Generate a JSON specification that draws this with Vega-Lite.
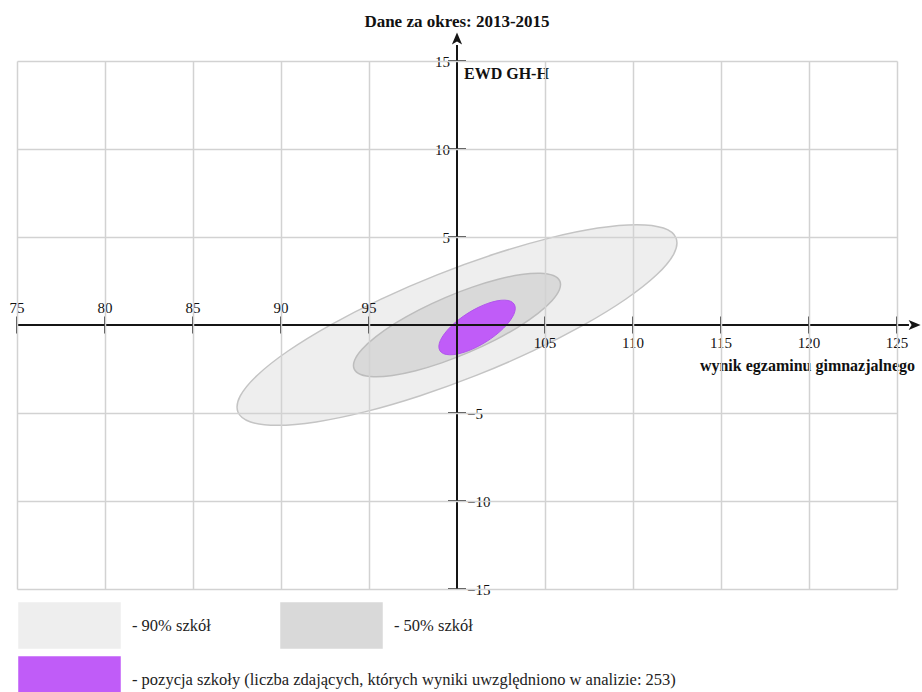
{
  "$schema": "https://vega.github.io/schema/vega-lite/v6.json",
  "width": 880,
  "height": 528,
  "autosize": {"type": "none"},
  "padding": {"left": 17, "top": 61, "right": 25, "bottom": 103},
  "background": "white",
  "title": {"text": "Dane za okres: 2013-2015", "font": "Liberation Serif", "fontSize": 17, "fontWeight": "bold", "color": "#111111", "anchor": "middle", "baseline": "middle", "offset": -7},
  "config": {"view": {"stroke": null}, "font": "Liberation Serif"},
  "datasets": {
    "elipsy": [
      {"g": "90", "i": 0, "x": 112.446, "y": 4.938}, {"g": "90", "i": 1, "x": 111.730, "y": 5.507}, {"g": "90", "i": 2, "x": 110.214, "y": 5.701}, {"g": "90", "i": 3, "x": 108.002, "y": 5.506},
      {"g": "90", "i": 4, "x": 105.244, "y": 4.936}, {"g": "90", "i": 5, "x": 102.130, "y": 4.030}, {"g": "90", "i": 6, "x": 98.870, "y": 2.849}, {"g": "90", "i": 7, "x": 95.687, "y": 1.474},
      {"g": "90", "i": 8, "x": 92.798, "y": -0.002}, {"g": "90", "i": 9, "x": 90.400, "y": -1.477}, {"g": "90", "i": 10, "x": 88.656, "y": -2.852}, {"g": "90", "i": 11, "x": 87.685, "y": -4.032},
      {"g": "90", "i": 12, "x": 87.554, "y": -4.938}, {"g": "90", "i": 13, "x": 88.270, "y": -5.507}, {"g": "90", "i": 14, "x": 89.786, "y": -5.701}, {"g": "90", "i": 15, "x": 91.998, "y": -5.506},
      {"g": "90", "i": 16, "x": 94.756, "y": -4.936}, {"g": "90", "i": 17, "x": 97.870, "y": -4.030}, {"g": "90", "i": 18, "x": 101.130, "y": -2.849}, {"g": "90", "i": 19, "x": 104.313, "y": -1.474},
      {"g": "90", "i": 20, "x": 107.202, "y": 0.002}, {"g": "90", "i": 21, "x": 109.600, "y": 1.477}, {"g": "90", "i": 22, "x": 111.344, "y": 2.852}, {"g": "90", "i": 23, "x": 112.315, "y": 4.032},
      {"g": "50", "i": 0, "x": 105.845, "y": 2.493}, {"g": "50", "i": 1, "x": 105.473, "y": 2.811}, {"g": "50", "i": 2, "x": 104.729, "y": 2.938}, {"g": "50", "i": 3, "x": 103.663, "y": 2.864},
      {"g": "50", "i": 4, "x": 102.347, "y": 2.596}, {"g": "50", "i": 5, "x": 100.871, "y": 2.150}, {"g": "50", "i": 6, "x": 99.335, "y": 1.558}, {"g": "50", "i": 7, "x": 97.845, "y": 0.860},
      {"g": "50", "i": 8, "x": 96.502, "y": 0.103}, {"g": "50", "i": 9, "x": 95.397, "y": -0.661}, {"g": "50", "i": 10, "x": 94.606, "y": -1.380}, {"g": "50", "i": 11, "x": 94.183, "y": -2.005},
      {"g": "50", "i": 12, "x": 94.155, "y": -2.493}, {"g": "50", "i": 13, "x": 94.527, "y": -2.811}, {"g": "50", "i": 14, "x": 95.271, "y": -2.938}, {"g": "50", "i": 15, "x": 96.337, "y": -2.864},
      {"g": "50", "i": 16, "x": 97.653, "y": -2.596}, {"g": "50", "i": 17, "x": 99.129, "y": -2.150}, {"g": "50", "i": 18, "x": 100.665, "y": -1.558}, {"g": "50", "i": 19, "x": 102.155, "y": -0.860},
      {"g": "50", "i": 20, "x": 103.498, "y": -0.103}, {"g": "50", "i": 21, "x": 104.603, "y": 0.661}, {"g": "50", "i": 22, "x": 105.394, "y": 1.380}, {"g": "50", "i": 23, "x": 105.817, "y": 2.005},
      {"g": "poz", "i": 0, "x": 103.249, "y": 1.181}, {"g": "poz", "i": 1, "x": 103.045, "y": 1.347}, {"g": "poz", "i": 2, "x": 102.711, "y": 1.412}, {"g": "poz", "i": 3, "x": 102.270, "y": 1.371},
      {"g": "poz", "i": 4, "x": 101.752, "y": 1.228}, {"g": "poz", "i": 5, "x": 101.192, "y": 0.991}, {"g": "poz", "i": 6, "x": 100.629, "y": 0.677}, {"g": "poz", "i": 7, "x": 100.100, "y": 0.307},
      {"g": "poz", "i": 8, "x": 99.642, "y": -0.093}, {"g": "poz", "i": 9, "x": 99.287, "y": -0.496}, {"g": "poz", "i": 10, "x": 99.057, "y": -0.875}, {"g": "poz", "i": 11, "x": 98.970, "y": -1.204},
      {"g": "poz", "i": 12, "x": 99.031, "y": -1.461}, {"g": "poz", "i": 13, "x": 99.235, "y": -1.627}, {"g": "poz", "i": 14, "x": 99.569, "y": -1.692}, {"g": "poz", "i": 15, "x": 100.010, "y": -1.651},
      {"g": "poz", "i": 16, "x": 100.528, "y": -1.508}, {"g": "poz", "i": 17, "x": 101.088, "y": -1.271}, {"g": "poz", "i": 18, "x": 101.651, "y": -0.957}, {"g": "poz", "i": 19, "x": 102.180, "y": -0.587},
      {"g": "poz", "i": 20, "x": 102.638, "y": -0.187}, {"g": "poz", "i": 21, "x": 102.993, "y": 0.216}, {"g": "poz", "i": 22, "x": 103.223, "y": 0.595}, {"g": "poz", "i": 23, "x": 103.310, "y": 0.924}
    ],
    "xt": [{"x": 75}, {"x": 80}, {"x": 85}, {"x": 90}, {"x": 95}, {"x": 105}, {"x": 110}, {"x": 115}, {"x": 120}, {"x": 125}],
    "yt": [{"y": -15}, {"y": -10}, {"y": -5}, {"y": 5}, {"y": 10}, {"y": 15}],
    "osie": [{"x": 75, "x2": 125.68, "y": 0, "y2": 0}, {"x": 100, "x2": 100, "y": -15, "y2": 15.91}],
    "groty": [{"k": "r", "x": 126.0, "y": 0}, {"k": "u", "x": 100, "y": 16.28}]
  },
  "layer": [
    {
      "data": {"name": "elipsy"},
      "transform": [{"filter": "datum.g == '90'"}],
      "mark": {"type": "line", "filled": true, "interpolate": "cardinal-closed", "stroke": "#c4c4c4", "strokeWidth": 1.5, "opacity": 1},
      "encoding": {
        "x": {"field": "x", "type": "quantitative", "scale": {"domain": [75, 125], "nice": false, "zero": false},
          "axis": {"values": [75, 80, 85, 90, 95, 105, 110, 115, 120, 125], "grid": true, "gridColor": "#d2d2d2", "gridWidth": 1.5, "labels": false, "ticks": false, "domain": false, "title": null, "zindex": 1}},
        "y": {"field": "y", "type": "quantitative", "scale": {"domain": [-15, 15], "nice": false, "zero": false},
          "axis": {"values": [-15, -10, -5, 5, 10, 15], "grid": true, "gridColor": "#d2d2d2", "gridWidth": 1.5, "labels": false, "ticks": false, "domain": false, "title": null, "zindex": 1}},
        "order": {"field": "i", "type": "quantitative"},
        "fill": {"field": "g", "type": "nominal",
          "scale": {"domain": ["90", "50", "poz"], "range": ["#eeeeee", "#d9d9d9", "#c05cf8"]},
          "legend": {
            "title": null, "orient": "none", "legendX": 29, "legendY": 541, "direction": "horizontal",
            "columns": 2, "gridAlign": "none", "columnPadding": -396, "rowPadding": 7,
            "symbolType": "M-2.2,-1H2.2V1H-2.2Z", "symbolSize": 2172, "symbolStrokeWidth": 0, "symbolOpacity": 1,
            "labelFont": "Liberation Serif", "labelFontSize": 16.5, "labelColor": "#222222", "labelOffset": 39, "labelLimit": 1000, "labelBaseline": "middle",
            "labelExpr": "datum.value == '90' ? '- 90% szkół' : datum.value == '50' ? '- 50% szkół' : '- pozycja szkoły (liczba zdających, których wyniki uwzględniono w analizie: 253)'",
            "encode": {"labels": {"update": {"dy": {"value": 4}}}}
          }}
      }
    },
    {
      "data": {"name": "elipsy"},
      "transform": [{"filter": "datum.g == '50'"}],
      "mark": {"type": "line", "filled": true, "interpolate": "cardinal-closed", "stroke": "#bdbdbd", "strokeWidth": 1.5, "opacity": 1},
      "encoding": {
        "x": {"field": "x", "type": "quantitative"},
        "y": {"field": "y", "type": "quantitative"},
        "order": {"field": "i", "type": "quantitative"},
        "fill": {"field": "g", "type": "nominal", "scale": {"domain": ["90", "50", "poz"], "range": ["#eeeeee", "#d9d9d9", "#c05cf8"]}}
      }
    },
    {
      "data": {"name": "elipsy"},
      "transform": [{"filter": "datum.g == 'poz'"}],
      "mark": {"type": "line", "filled": true, "interpolate": "cardinal-closed", "stroke": "#b055ec", "strokeWidth": 1, "opacity": 1},
      "encoding": {
        "x": {"field": "x", "type": "quantitative"},
        "y": {"field": "y", "type": "quantitative"},
        "order": {"field": "i", "type": "quantitative"},
        "fill": {"field": "g", "type": "nominal", "scale": {"domain": ["90", "50", "poz"], "range": ["#eeeeee", "#d9d9d9", "#c05cf8"]}}
      }
    },
    {
      "data": {"name": "osie"},
      "mark": {"type": "rule", "color": "#151515", "strokeWidth": 2},
      "encoding": {
        "x": {"field": "x", "type": "quantitative"}, "x2": {"field": "x2"},
        "y": {"field": "y", "type": "quantitative"}, "y2": {"field": "y2"}
      }
    },
    {
      "data": {"name": "groty"},
      "mark": {"type": "point", "filled": true, "size": 144, "opacity": 1, "color": "#151515", "strokeWidth": 0},
      "encoding": {
        "x": {"field": "x", "type": "quantitative"},
        "y": {"field": "y", "type": "quantitative"},
        "shape": {"field": "k", "type": "nominal", "legend": null,
          "scale": {"domain": ["r", "u"], "range": ["M1,0L-1,-0.85L-0.5,0L-1,0.85Z", "M0,-1L-0.85,1L0,0.5L0.85,1Z"]}}
      }
    },
    {
      "data": {"name": "xt"},
      "mark": {"type": "tick", "orient": "vertical", "size": 17, "thickness": 1.6, "color": "#151515", "opacity": 1},
      "encoding": {"x": {"field": "x", "type": "quantitative"}, "y": {"datum": 0, "type": "quantitative"}}
    },
    {
      "data": {"name": "yt"},
      "mark": {"type": "tick", "orient": "horizontal", "size": 18, "thickness": 1.6, "color": "#151515", "opacity": 1},
      "encoding": {"x": {"datum": 100, "type": "quantitative"}, "y": {"field": "y", "type": "quantitative"}}
    },
    {
      "data": {"name": "xt"},
      "transform": [{"filter": "datum.x < 100"}],
      "mark": {"type": "text", "font": "Liberation Serif", "fontSize": 15, "color": "#111111", "align": "center", "baseline": "middle", "dy": -17},
      "encoding": {"x": {"field": "x", "type": "quantitative"}, "y": {"datum": 0, "type": "quantitative"}, "text": {"field": "x", "type": "quantitative"}}
    },
    {
      "data": {"name": "xt"},
      "transform": [{"filter": "datum.x > 100"}],
      "mark": {"type": "text", "font": "Liberation Serif", "fontSize": 15, "color": "#111111", "align": "center", "baseline": "middle", "dy": 18},
      "encoding": {"x": {"field": "x", "type": "quantitative"}, "y": {"datum": 0, "type": "quantitative"}, "text": {"field": "x", "type": "quantitative"}}
    },
    {
      "data": {"name": "yt"},
      "transform": [{"filter": "datum.y > 0"}],
      "mark": {"type": "text", "font": "Liberation Serif", "fontSize": 15, "color": "#111111", "align": "right", "baseline": "middle", "dx": -7, "dy": 1},
      "encoding": {"x": {"datum": 100, "type": "quantitative"}, "y": {"field": "y", "type": "quantitative"}, "text": {"field": "y", "type": "quantitative"}}
    },
    {
      "data": {"name": "yt"},
      "transform": [{"filter": "datum.y < 0"}],
      "mark": {"type": "text", "font": "Liberation Serif", "fontSize": 15, "color": "#111111", "align": "left", "baseline": "middle", "dx": 10, "dy": 1},
      "encoding": {"x": {"datum": 100, "type": "quantitative"}, "y": {"field": "y", "type": "quantitative"}, "text": {"field": "y", "type": "quantitative"}}
    },
    {
      "data": {"values": [{"t": "EWD GH-H"}]},
      "mark": {"type": "text", "font": "Liberation Serif", "fontSize": 16, "fontWeight": "bold", "color": "#111111", "align": "left", "baseline": "middle", "dx": 7, "dy": 13},
      "encoding": {"x": {"datum": 100, "type": "quantitative"}, "y": {"datum": 15, "type": "quantitative"}, "text": {"field": "t"}}
    },
    {
      "data": {"values": [{"t": "wynik egzaminu gimnazjalnego"}]},
      "mark": {"type": "text", "font": "Liberation Serif", "fontSize": 16, "fontWeight": "bold", "color": "#111111", "align": "right", "baseline": "middle", "dx": 18, "dy": 41},
      "encoding": {"x": {"datum": 125, "type": "quantitative"}, "y": {"datum": 0, "type": "quantitative"}, "text": {"field": "t"}}
    }
  ]
}
